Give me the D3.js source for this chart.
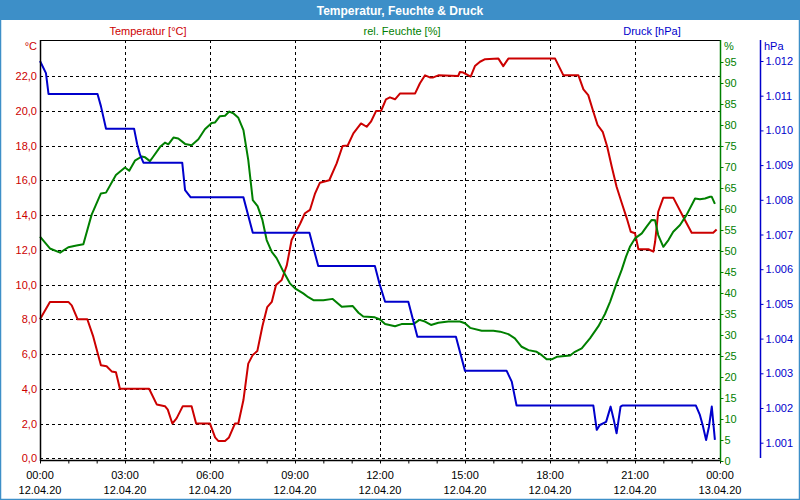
<!DOCTYPE html>
<html><head><meta charset="utf-8">
<script src="https://cdn.jsdelivr.net/npm/d3@7"></script>
<style>
html,body{margin:0;padding:0;background:#fff;}
svg text{font-family:"Liberation Sans",Arial,sans-serif;}
</style></head>
<body><svg id="c" width="800" height="500"></svg>
<script>
const title = "Temperatur, Feuchte & Druck";
const seriesNames = ["Temperatur [°C]", "rel. Feuchte [%]", "Druck [hPa]"];
const timeTickLabels = ["00:00","03:00","06:00","09:00","12:00","15:00","18:00","21:00","00:00"];
const dateTickLabels = ["12.04.20","12.04.20","12.04.20","12.04.20","12.04.20","12.04.20","12.04.20","12.04.20","13.04.20"];
const tempTicks = [0,2,4,6,8,10,12,14,16,18,20,22];
const humTicks = [0,5,10,15,20,25,30,35,40,45,50,55,60,65,70,75,80,85,90,95];
const presTicks = [1001,1002,1003,1004,1005,1006,1007,1008,1009,1010,1011,1012];

// [hour, value]
const temperature = [
[0,8.0],[0.35,9.0],[1.0,9.0],[1.12,8.8],[1.33,8.0],[1.67,8.0],[1.88,7.0],[2.15,5.35],[2.35,5.3],[2.53,5.0],[2.68,4.95],[2.82,4.0],[3.85,4.0],[4.12,3.1],[4.41,3.0],[4.51,2.8],[4.67,2.0],[4.82,2.3],[5.04,3.0],[5.35,3.0],[5.51,2.0],[6.0,2.0],[6.18,1.2],[6.29,1.0],[6.53,1.0],[6.67,1.2],[6.88,2.0],[7.0,2.0],[7.18,3.35],[7.35,5.45],[7.51,5.95],[7.67,6.17],[7.85,7.6],[8.02,8.7],[8.18,9.0],[8.33,9.97],[8.53,10.26],[8.71,11.1],[8.88,12.56],[9.18,13.5],[9.35,14.1],[9.53,14.3],[9.71,15.25],[9.88,15.86],[10.21,16.0],[10.47,16.97],[10.68,17.97],[10.86,18.0],[11.06,18.7],[11.33,19.27],[11.53,19.08],[11.68,19.37],[11.86,19.98],[12.04,20.0],[12.21,20.66],[12.35,20.77],[12.53,20.66],[12.71,21.0],[13.24,21.0],[13.41,21.58],[13.59,22.04],[13.76,21.92],[13.88,21.92],[14.06,22.04],[14.76,22.0],[14.82,22.23],[14.94,22.2],[15.12,22.04],[15.2,21.97],[15.35,22.57],[15.53,22.82],[15.71,22.97],[16.18,23.0],[16.35,22.57],[16.53,23.0],[18.18,23.0],[18.47,22.05],[19.0,22.05],[19.18,21.23],[19.35,20.9],[19.53,19.94],[19.68,19.18],[19.86,18.79],[20.02,17.93],[20.18,16.78],[20.35,15.63],[20.53,14.71],[20.71,13.81],[20.85,13.04],[21.0,12.95],[21.12,12.03],[21.47,12.03],[21.65,11.89],[21.71,12.46],[21.82,14.19],[22.0,15.0],[22.35,15.0],[22.76,13.71],[23.0,12.98],[23.76,12.98],[23.88,13.17]
];
const humidity = [
[0,53.4],[0.35,50.6],[0.71,49.6],[1.0,50.9],[1.29,51.3],[1.53,51.6],[1.82,58.6],[2.15,63.7],[2.33,63.9],[2.68,68.1],[3.0,69.9],[3.15,69.1],[3.35,71.5],[3.59,72.5],[3.71,72.3],[3.88,71.4],[4.0,72.5],[4.24,74.8],[4.41,75.8],[4.53,75.4],[4.71,77.0],[4.88,76.8],[5.12,75.5],[5.35,75.2],[5.59,76.6],[5.82,79.0],[6.06,80.5],[6.18,80.6],[6.35,82.1],[6.53,82.2],[6.68,83.2],[6.82,82.8],[7.0,81.7],[7.18,78.8],[7.35,71.7],[7.51,62.1],[7.68,60.7],[7.85,57.4],[8.0,52.6],[8.18,49.8],[8.35,48.3],[8.59,45.1],[8.82,42.3],[9.0,41.1],[9.29,39.9],[9.47,39.0],[9.65,38.3],[10.0,38.3],[10.33,38.6],[10.65,36.7],[11.04,36.9],[11.24,35.3],[11.41,34.4],[11.82,34.2],[12.0,33.7],[12.18,32.6],[12.53,32.1],[12.76,32.6],[13.18,32.6],[13.39,33.6],[13.59,33.2],[13.8,32.4],[14.06,32.9],[14.41,33.2],[14.82,33.2],[15.0,32.8],[15.18,31.7],[15.59,31.0],[16.0,31.0],[16.24,30.8],[16.53,30.2],[16.76,29.2],[17.0,27.2],[17.24,26.4],[17.53,26.0],[17.71,25.2],[17.88,24.2],[18.06,24.2],[18.24,24.8],[18.71,25.1],[18.88,26.0],[19.12,26.8],[19.41,29.2],[19.71,32.1],[19.94,35.0],[20.12,37.9],[20.35,42.3],[20.53,45.5],[20.68,48.6],[20.82,51.0],[21.0,53.0],[21.24,54.2],[21.41,55.8],[21.59,57.4],[21.71,57.3],[21.82,53.8],[22.0,51.0],[22.18,52.6],[22.35,54.6],[22.59,56.2],[22.82,58.6],[23.12,62.5],[23.29,62.3],[23.47,62.5],[23.65,62.9],[23.71,62.9],[23.82,61.2]
];
const pressure = [
[0,1012.0],[0.21,1011.65],[0.30,1011.05],[2.03,1011.05],[2.15,1010.7],[2.33,1010.05],[3.32,1010.05],[3.43,1009.6],[3.53,1009.3],[3.65,1009.07],[5.02,1009.07],[5.12,1008.28],[5.32,1008.07],[7.18,1008.07],[7.51,1007.05],[9.51,1007.05],[9.82,1006.09],[11.82,1006.09],[11.98,1005.59],[12.18,1005.06],[13.0,1005.06],[13.32,1004.05],[14.68,1004.05],[15.0,1003.07],[16.47,1003.07],[16.65,1002.76],[16.82,1002.07],[19.53,1002.07],[19.65,1001.37],[19.76,1001.51],[19.98,1001.6],[20.14,1002.04],[20.24,1001.7],[20.35,1001.27],[20.49,1002.04],[20.55,1002.07],[23.15,1002.07],[23.29,1001.8],[23.39,1001.5],[23.51,1001.08],[23.61,1001.46],[23.71,1002.04],[23.82,1001.08]
];

const RED = "#cc0000", GREEN = "#008000", BLUE = "#0000cc", FRAME = "#3d8fc8";
const L = 40, R = 720, T = 40, B = 460;

const svg = d3.select("#c");
// frame and title bar
svg.append("rect").attr("x",0.5).attr("y",0.5).attr("width",799).attr("height",499)
  .attr("fill","#fff").attr("stroke",FRAME).attr("stroke-width",1.5);
svg.append("rect").attr("x",0).attr("y",0).attr("width",800).attr("height",20).attr("fill",FRAME);
svg.append("text").attr("x",400).attr("y",14.5).attr("text-anchor","middle")
  .attr("fill","#fff").attr("font-weight","bold").attr("font-size","12px").text(title);

const x = d3.scaleLinear().domain([0,24]).range([L,R]);
const yT = d3.scaleLinear().domain([0,22]).range([458.3,76]);
const yH = d3.scaleLinear().domain([0,100]).range([461,41]);
const yP = d3.scaleLinear().domain([1001,1012]).range([442.7,61]);

// gridlines
const grid = svg.append("g").attr("stroke","#000").attr("stroke-width",1).attr("stroke-dasharray","3,3");
tempTicks.forEach(t=>{
  const yy = Math.round(yT(t))+0.5;
  grid.append("line").attr("x1",L).attr("x2",R).attr("y1",yy).attr("y2",yy);
});
d3.range(3,24,3).forEach(h=>{
  const xx = Math.round(x(h))+0.5;
  grid.append("line").attr("x1",xx).attr("x2",xx).attr("y1",T).attr("y2",B);
});

// lines
const line = (ys)=> d3.line().x(d=>x(d[0])).y(d=>ys(d[1]));
const plot = svg.append("g").attr("fill","none").attr("stroke-width",2).attr("stroke-linejoin","round");
plot.append("path").datum(temperature).attr("d",line(yT)).attr("stroke",RED);
plot.append("path").datum(humidity).attr("d",line(yH)).attr("stroke",GREEN);
plot.append("path").datum(pressure).attr("d",line(yP)).attr("stroke",BLUE);

// frame lines
svg.append("line").attr("x1",L).attr("x2",R).attr("y1",T+0.5).attr("y2",T+0.5).attr("stroke","#000");
svg.append("line").attr("x1",L+0.5).attr("x2",L+0.5).attr("y1",T).attr("y2",B+1).attr("stroke","#000").attr("stroke-width",1.5);

// left axis (temperature)
const gL = svg.append("g").attr("transform",`translate(${L},0)`)
  .call(d3.axisLeft(yT).tickValues(tempTicks).tickSize(0).tickPadding(3).tickFormat(d=>d3.format(".1f")(d).replace(".",",")));
gL.select(".domain").remove();
gL.selectAll("text").attr("fill",RED).attr("font-size","11px").attr("font-family","Liberation Sans, Arial, sans-serif");
svg.append("text").attr("x",37).attr("y",50).attr("text-anchor","end").attr("fill",RED).attr("font-size","11px").text("°C");

// bottom axis
const gB = svg.append("g").attr("transform",`translate(0,${B+0.5})`)
  .call(d3.axisBottom(x).tickValues(d3.range(0,25,1)).tickSize(3).tickFormat(""));
gB.select(".domain").attr("d",`M${L},0H${R}`).attr("stroke","#000").attr("stroke-width",1.5);
const labs = svg.append("g").attr("font-size","11px").attr("fill","#000").attr("text-anchor","middle");
timeTickLabels.forEach((t,i)=>{
  labs.append("text").attr("x",x(i*3)).attr("y",479).text(t);
  labs.append("text").attr("x",x(i*3)).attr("y",494).text(dateTickLabels[i]);
});

// right humidity axis
const gH = svg.append("g").attr("transform",`translate(${R+0.5},0)`)
  .call(d3.axisRight(yH).tickValues(humTicks).tickSize(3).tickPadding(1).tickFormat(d3.format("d")));
gH.select(".domain").attr("d",`M0,${T}V${B+1}`).attr("stroke",GREEN).attr("stroke-width",1.5);
gH.selectAll(".tick line").attr("stroke",GREEN);
gH.selectAll("text").attr("fill",GREEN).attr("font-size","11px").attr("font-family","Liberation Sans, Arial, sans-serif");
svg.append("text").attr("x",724).attr("y",50).attr("fill",GREEN).attr("font-size","11px").text("%");

// right pressure axis
const gP = svg.append("g").attr("transform",`translate(760.5,0)`)
  .call(d3.axisRight(yP).tickValues(presTicks).tickSize(3).tickPadding(2).tickFormat(d=>"1." + String(d).slice(1)));
gP.select(".domain").attr("d",`M0,${T}V${B-2}`).attr("stroke",BLUE).attr("stroke-width",1.5);
gP.selectAll(".tick line").attr("stroke",BLUE);
gP.selectAll("text").attr("fill",BLUE).attr("font-size","11px").attr("font-family","Liberation Sans, Arial, sans-serif");
svg.append("text").attr("x",764).attr("y",50).attr("fill",BLUE).attr("font-size","11px").text("hPa");

// series labels
const sl = svg.append("g").attr("font-size","11px").attr("text-anchor","middle");
sl.append("text").attr("x",148).attr("y",35).attr("fill",RED).text(seriesNames[0]);
sl.append("text").attr("x",402).attr("y",35).attr("fill",GREEN).text(seriesNames[1]);
sl.append("text").attr("x",652).attr("y",35).attr("fill",BLUE).text(seriesNames[2]);
</script></body></html>
